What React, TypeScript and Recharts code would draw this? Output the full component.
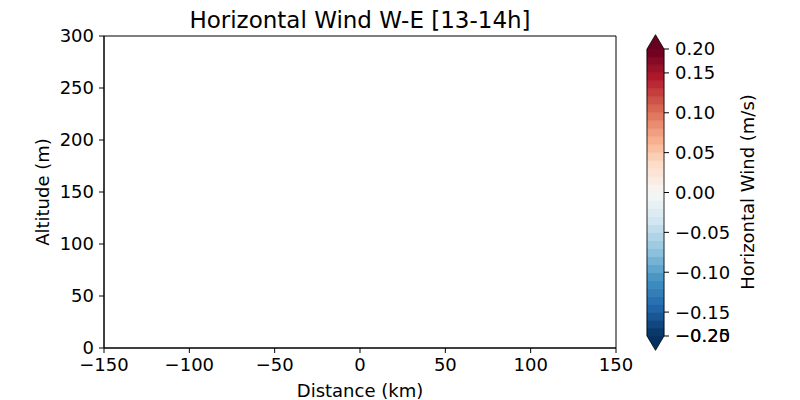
import React from "react";
import {
  ScatterChart,
  ComposedChart,
  Scatter,
  XAxis,
  YAxis,
  ReferenceArea,
} from "recharts";

// main section axes
const xTicks = [-150, -100, -50, 0, 50, 100, 150];
const yTicks = [0, 50, 100, 150, 200, 250, 300];
const xDomain = [-150, 150];
const yDomain = [0, 300];
// no wind samples in this hour window -> empty field
const windPoints: { distance: number; altitude: number }[] = [];

// colorbar contour levels (m/s)
const levels = [
  -0.18, -0.17, -0.16, -0.15, -0.14, -0.13, -0.12, -0.11, -0.1, -0.09,
  -0.08, -0.07, -0.06, -0.05, -0.04, -0.03, -0.02, -0.01, 0, 0.01, 0.02,
  0.03, 0.04, 0.05, 0.06, 0.07, 0.08, 0.09, 0.1, 0.11, 0.12, 0.13, 0.14,
  0.15, 0.16, 0.17, 0.18,
];
const cbarTicks = [-0.18, -0.15, -0.1, -0.05, 0, 0.05, 0.1, 0.15, 0.18];
const cbarTickLabels = [
  ["−0.20", "−0.25"],
  ["−0.15"],
  ["−0.10"],
  ["−0.05"],
  ["0.00"],
  ["0.05"],
  ["0.10"],
  ["0.15"],
  ["0.20"],
];

const FONT = "DejaVu Sans";
const TICK_FS = 18;

// RdBu_r
const RDBU_R = [
  "#053061", "#2166ac", "#4393c3", "#92c5de", "#d1e5f0", "#f7f7f7",
  "#fddbc7", "#f4a582", "#d6604d", "#b2182b", "#67001f",
];
const hex = (h: string) => [1, 3, 5].map((i) => parseInt(h.slice(i, i + 2), 16));
function cmap(t: number) {
  const s = Math.min(Math.max(t, 0), 1) * (RDBU_R.length - 1);
  const i = Math.min(Math.floor(s), RDBU_R.length - 2);
  const f = s - i;
  const a = hex(RDBU_R[i]);
  const b = hex(RDBU_R[i + 1]);
  const c = a.map((v, k) => Math.round(v + (b[k] - v) * f));
  return `rgb(${c[0]},${c[1]},${c[2]})`;
}

const lo = levels[0];
const hi = levels[levels.length - 1];
const ext = 0.05 * (hi - lo); // extend triangle length

const minus = (v: number) => String(v).replace("-", "−");

const TopArrow = (p: any) => (
  <polygon
    points={`${p.x},${p.y + p.height} ${p.x + p.width},${p.y + p.height} ${p.x + p.width / 2},${p.y}`}
    fill={p.fill}
  />
);
const BottomArrow = (p: any) => (
  <polygon
    points={`${p.x},${p.y} ${p.x + p.width},${p.y} ${p.x + p.width / 2},${p.y + p.height}`}
    fill={p.fill}
  />
);
const Outline = (p: any) => {
  const e = (p.height * ext) / (hi - lo + 2 * ext);
  const { x, y, width: w, height: h } = p;
  return (
    <path
      d={`M${x + w / 2},${y} L${x + w},${y + e} L${x + w},${y + h - e} L${x + w / 2},${y + h} L${x},${y + h - e} L${x},${y + e} Z`}
      fill="none"
      stroke="#000"
      strokeWidth={0.8}
    />
  );
};

const CbarTick = (p: any) => {
  const idx = cbarTicks.indexOf(p.payload.value);
  const labels = idx >= 0 ? cbarTickLabels[idx] : [minus(p.payload.value)];
  return (
    <g>
      {labels.map((l) => (
        <text
          key={l}
          x={p.x}
          y={p.y}
          dy="0.36em"
          textAnchor="start"
          fontFamily={FONT}
          fontSize={TICK_FS}
          fill="#000"
        >
          {l}
        </text>
      ))}
    </g>
  );
};

export default function App() {
  const nBands = levels.length - 1;
  return (
    <div
      style={{
        position: "absolute",
        left: 0,
        top: 0,
        width: 800,
        height: 400,
        background: "#fff",
        fontFamily: FONT,
      }}
    >
      <div style={{ position: "absolute", left: 0, top: 0 }}>
        <ScatterChart
          width={800}
          height={400}
          margin={{ top: 36, right: 184, bottom: 22, left: 44 }}
        >
          <XAxis
            type="number"
            dataKey="distance"
            domain={xDomain}
            ticks={xTicks}
            allowDataOverflow
            height={30}
            tickSize={5}
            tickMargin={5}
            tickFormatter={minus}
            stroke="#000"
            tick={{ fill: "#000", fontSize: TICK_FS, fontFamily: FONT }}
          />
          <YAxis
            type="number"
            dataKey="altitude"
            domain={yDomain}
            ticks={yTicks}
            allowDataOverflow
            width={60}
            tickSize={5}
            tickMargin={5}
            stroke="#000"
            tick={{ fill: "#000", fontSize: TICK_FS, fontFamily: FONT }}
          />
          <ReferenceArea
            x1={xDomain[0]}
            x2={xDomain[1]}
            y1={yDomain[0]}
            y2={yDomain[1]}
            fill="none"
            fillOpacity={0}
            stroke="#000"
            strokeWidth={1}
            strokeOpacity={1}
            ifOverflow="visible"
          />
          <Scatter data={windPoints} fill="#000" isAnimationActive={false} />
        </ScatterChart>
      </div>

      <div style={{ position: "absolute", left: 0, top: 0 }}>
        <ComposedChart
          width={800}
          height={400}
          margin={{ top: 49, right: 56, bottom: 64, left: 647 }}
        >
          <XAxis
            type="number"
            dataKey="x"
            domain={[0, 1]}
            allowDataOverflow
            hide
          />
          <YAxis
            type="number"
            dataKey="v"
            orientation="right"
            domain={[lo, hi]}
            ticks={cbarTicks}
            allowDataOverflow
            width={80}
            tickSize={5}
            tickMargin={6}
            axisLine={false}
            tickLine={{ stroke: "#000" }}
            tick={<CbarTick />}
          />
          <ReferenceArea
            x1={0}
            x2={1}
            y1={hi}
            y2={hi + ext}
            fill={cmap(1)}
            fillOpacity={1}
            ifOverflow="visible"
            shape={<TopArrow />}
          />
          <ReferenceArea
            x1={0}
            x2={1}
            y1={lo - ext}
            y2={lo}
            fill={cmap(0)}
            fillOpacity={1}
            ifOverflow="visible"
            shape={<BottomArrow />}
          />
          {levels.slice(0, -1).map((l, i) => (
            <ReferenceArea
              key={i}
              x1={0}
              x2={1}
              y1={l}
              y2={levels[i + 1]}
              fill={cmap((i + 0.5) / nBands)}
              fillOpacity={1}
              stroke={cmap((i + 0.5) / nBands)}
              strokeWidth={0.5}
              ifOverflow="visible"
            />
          ))}
          <ReferenceArea
            x1={0}
            x2={1}
            y1={lo - ext}
            y2={hi + ext}
            ifOverflow="visible"
            shape={<Outline />}
          />
          <Scatter data={[]} isAnimationActive={false} />
        </ComposedChart>
      </div>

      <svg
        width={800}
        height={400}
        style={{ position: "absolute", left: 0, top: 0, pointerEvents: "none" }}
      >
        <text x={360} y={27.5} textAnchor="middle" fontFamily={FONT} fontSize={23} fill="#000">
          Horizontal Wind W-E [13-14h]
        </text>
        <text x={360} y={397} textAnchor="middle" fontFamily={FONT} fontSize={TICK_FS} fill="#000">
          Distance (km)
        </text>
        <text
          x={49}
          y={192}
          textAnchor="middle"
          fontFamily={FONT}
          fontSize={TICK_FS}
          fill="#000"
          transform="rotate(-90 49 192)"
        >
          Altitude (m)
        </text>
        <text
          x={754}
          y={192}
          textAnchor="middle"
          fontFamily={FONT}
          fontSize={TICK_FS}
          fill="#000"
          transform="rotate(-90 754 192)"
        >
          Horizontal Wind (m/s)
        </text>
      </svg>
    </div>
  );
}
